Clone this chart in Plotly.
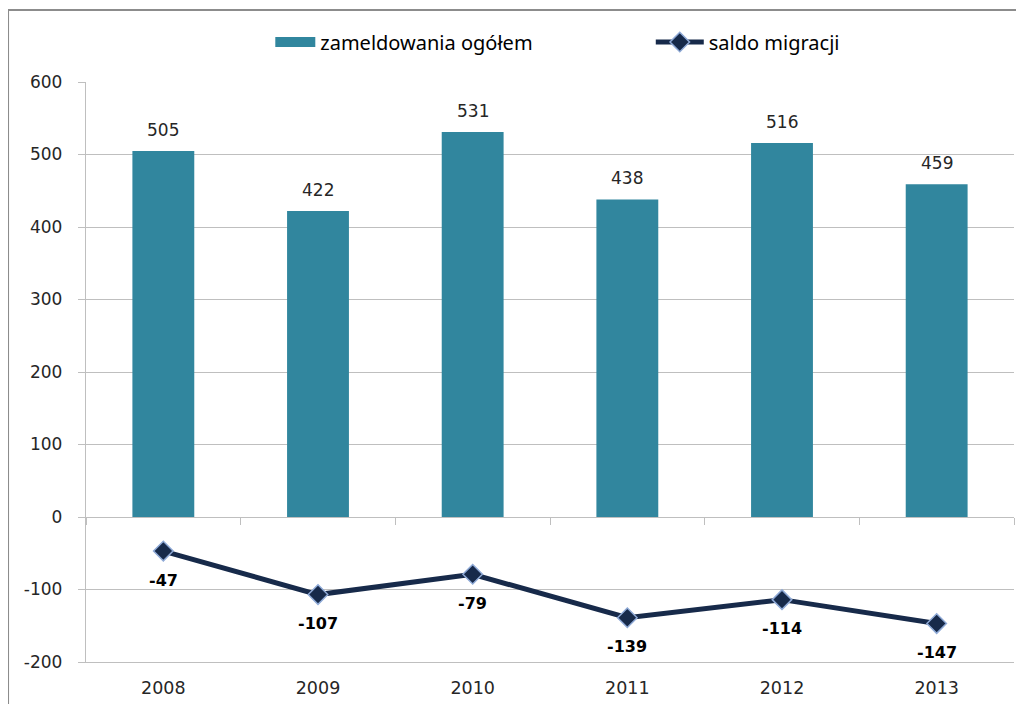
import plotly.graph_objects as go

years = ["2008", "2009", "2010", "2011", "2012", "2013"]
zameldowania = [505, 422, 531, 438, 516, 459]
saldo = [-47, -107, -79, -139, -114, -147]
y_ticks = [-200, -100, 0, 100, 200, 300, 400, 500, 600]
y_tick_labels = [str(v) for v in y_ticks]

bar_color = "#31869E"
line_color = "#172A4A"
grid_color = "#BFBFBF"
font_fam = "DejaVu Sans"

fig = go.Figure()
fig.add_trace(go.Bar(
    x=years, y=zameldowania, name="zameldowania ogółem",
    marker=dict(color=bar_color, line=dict(width=0)),
    showlegend=False,
))
# legend swatch for the bars (wide rectangle like the original)
fig.add_trace(go.Scatter(
    x=[None], y=[None], name="zameldowania ogółem", mode="lines",
    line=dict(color=bar_color, width=11), legend="legend",
))
fig.add_trace(go.Scatter(
    x=years, y=saldo, name="saldo migracji", xaxis="x2",
    mode="lines+markers",
    line=dict(color=line_color, width=5),
    marker=dict(symbol="diamond", size=15, color=line_color,
                line=dict(color="#8EA9D6", width=1.5)),
    legend="legend2",
))

annotations = []
for i, v in enumerate(zameldowania):
    annotations.append(dict(x=i, y=v, xref="x", yref="y", text=str(v),
                            showarrow=False, yshift=21,
                            font=dict(family=font_fam, size=17, color="#262626")))
for i, v in enumerate(saldo):
    annotations.append(dict(x=i, y=v, xref="x", yref="y", text=str(v),
                            showarrow=False, yshift=-29,
                            font=dict(family=font_fam, size=16, color="#000000",
                                      weight="bold")))

leg_font = dict(family="Noto Sans", size=20, color="#000000")
fig.update_layout(
    width=1024, height=704,
    margin=dict(l=78, r=18, t=74, b=50, autoexpand=False),
    paper_bgcolor="white", plot_bgcolor="white",
    bargap=0.6,
    showlegend=True,
    legend=dict(orientation="h", x=0.1986, y=1.069, xanchor="left", yanchor="middle",
                font=leg_font, itemwidth=40, bgcolor="rgba(0,0,0,0)"),
    legend2=dict(orientation="h", x=0.6086, y=1.069, xanchor="left", yanchor="middle",
                 font=leg_font, itemwidth=48, bgcolor="rgba(0,0,0,0)"),
    font=dict(family=font_fam, size=17, color="#262626"),
    xaxis=dict(type="category", categoryorder="array", categoryarray=years,
               range=[-0.5, 5.5], showline=True, linecolor=grid_color, linewidth=1.3,
               ticks="", showgrid=False, zeroline=False, ticklabelstandoff=10,
               tickfont=dict(family=font_fam, size=17.5, color="#262626")),
    xaxis2=dict(type="category", categoryorder="array", categoryarray=years,
                range=[-0.5, 5.5], overlaying="x", anchor="free", position=0.25,
                side="bottom", showline=True, linecolor=grid_color, linewidth=1.3,
                ticks="outside", tickson="boundaries", ticklen=7, tickcolor=grid_color,
                showticklabels=False, showgrid=False, zeroline=False),
    yaxis=dict(range=[-200, 600], tickmode="array", tickvals=y_ticks,
               ticktext=y_tick_labels,
               showgrid=True, gridcolor=grid_color, gridwidth=1,
               showline=True, linecolor=grid_color, linewidth=1.3,
               ticks="outside", ticklen=7, tickcolor=grid_color,
               zeroline=False, ticklabelstandoff=12,
               tickfont=dict(family=font_fam, size=17, color="#262626")),
    annotations=annotations,
    shapes=[dict(type="rect", xref="paper", yref="paper",
                 x0=-0.084, x1=1.2, y0=-0.3, y1=1.124,
                 line=dict(color="#8C8C8C", width=2), layer="below")],
)

fig.write_html("out.html")
